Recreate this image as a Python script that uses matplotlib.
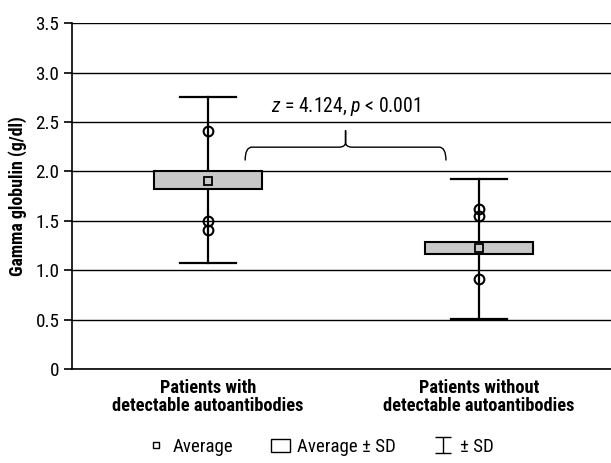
import matplotlib
matplotlib.use("Agg")
import matplotlib.pyplot as plt
from matplotlib.path import Path
from matplotlib.patches import PathPatch, Rectangle
from matplotlib.lines import Line2D
from matplotlib import font_manager

names = {f.name for f in font_manager.fontManager.ttflist}
cands = ['Liberation Sans Narrow', 'Roboto Condensed', 'Open Sans Condensed',
         'Noto Sans Condensed', 'DejaVu Sans Condensed', 'Roboto']
fam = next((c for c in cands if c in names), 'DejaVu Sans')
plt.rcParams['font.family'] = [fam, 'DejaVu Sans']
plt.rcParams['mathtext.fontset'] = 'custom'
plt.rcParams['mathtext.it'] = fam + ':italic'
plt.rcParams['mathtext.rm'] = fam

# data
groups = ['Patients with\ndetectable autoantibodies', 'Patients without\ndetectable autoantibodies']
means = [1.90, 1.22]
box_low = [1.82, 1.16]
box_high = [2.00, 1.29]
sd_low = [1.07, 0.51]
sd_high = [2.75, 1.92]
points = [[2.41, 1.50, 1.41], [1.62, 1.55, 0.91]]
stat_text = '$z$ = 4.124, $p$ < 0.001'
yticks = [0, 0.5, 1.0, 1.5, 2.0, 2.5, 3.0, 3.5]
ylabels = ['0', '0.5', '1.0', '1.5', '2.0', '2.5', '3.0', '3.5']

fig = plt.figure(figsize=(6.11, 4.63), dpi=100)
renderer = fig.canvas.get_renderer()


def fit_size(s, target_px, weight='normal'):
    # font size that gives the text the width seen in the reference
    t = fig.text(0, 0, s, fontsize=10, fontweight=weight)
    w = t.get_window_extent(renderer).width
    t.remove()
    return 10 * target_px / w


fs_tick = fit_size('3.5', 24)
fs_bold = fit_size('detectable autoantibodies', 192, 'bold')
fs_ylab = fit_size('Gamma globulin (g/dl)', 160, 'bold')
fs_stat = fit_size(stat_text, 150)
fs_leg = fit_size('Average', 60)

ax = fig.add_axes([0.1178, 0.203, 0.8822, 0.747])

box_w = 0.395
cap_w = 0.207
for i in range(len(groups)):
    ax.plot([i, i], [sd_low[i], sd_high[i]], color='black', lw=1.6, zorder=3)
    for y in (sd_low[i], sd_high[i]):
        ax.plot([i - cap_w / 2, i + cap_w / 2], [y, y], color='black', lw=1.6, zorder=3)
    ax.add_patch(Rectangle((i - box_w / 2, box_low[i]), box_w, box_high[i] - box_low[i],
                           facecolor='#c8c8c8', edgecolor='black', lw=1.5, zorder=4))
    ax.plot([i], [means[i]], 's', ms=5.5, mfc='#c8c8c8', mec='black', mew=1.3, zorder=5)
    ax.plot([i] * len(points[i]), points[i], 'o', ms=7, mfc='none', mec='black', mew=1.5, zorder=5)

# brace between groups
x0, x1 = 0.137, 0.878
xm = (x0 + x1) / 2
yb, yt, ytip = 2.11, 2.245, 2.415
r = 0.025
dy = 0.05
verts = [(x0, yb), (x0, yt), (x0 + r, yt),
         (xm - r, yt), (xm, yt), (xm, yt + dy),
         (xm, ytip), (xm, ytip),
         (xm, yt + dy), (xm, yt), (xm + r, yt),
         (x1 - r, yt), (x1, yt), (x1, yb)]
codes = [Path.MOVETO, Path.CURVE3, Path.CURVE3,
         Path.LINETO, Path.CURVE3, Path.CURVE3,
         Path.LINETO, Path.MOVETO,
         Path.LINETO, Path.CURVE3, Path.CURVE3,
         Path.LINETO, Path.CURVE3, Path.CURVE3]
ax.add_patch(PathPatch(Path(verts, codes), facecolor='none', edgecolor='black', lw=1.0, zorder=3))
ax.text(xm, 2.66, stat_text, ha='center', va='center', fontsize=fs_stat)

ax.set_xlim(-0.502, 1.487)
ax.set_ylim(0, 3.5)
ax.set_yticks(yticks)
ax.set_yticklabels(ylabels, fontsize=fs_tick)
ax.set_xticks(range(len(groups)))
ax.set_xticklabels(groups, fontsize=fs_bold, fontweight='bold', linespacing=1.05)
ax.tick_params(axis='x', length=0, pad=7)
ax.tick_params(axis='y', length=6, width=1.2, direction='out', pad=3)
ax.set_ylabel('Gamma globulin (g/dl)', fontsize=fs_ylab, fontweight='bold', labelpad=6)
ax.yaxis.grid(True, color='black', lw=1.0)
ax.set_axisbelow(True)
for s in ('top', 'right'):
    ax.spines[s].set_visible(False)
ax.spines['left'].set_linewidth(1.2)
ax.spines['bottom'].set_linewidth(1.2)

ibeam = Path([(-1, 1), (1, 1), (0, 1), (0, -1), (-1, -1), (1, -1)],
             [Path.MOVETO, Path.LINETO, Path.MOVETO, Path.LINETO, Path.MOVETO, Path.LINETO])
handles = [
    Line2D([], [], ls='none', marker='s', ms=5, mfc='white', mec='black', mew=1.0),
    Rectangle((0, 0), 1, 1, facecolor='white', edgecolor='black', lw=1.0),
    Line2D([], [], ls='none', marker=ibeam, ms=11, mec='black', mew=1.0),
]
fig.legend(handles, ['Average', 'Average ± SD', '± SD'], loc='center', bbox_to_anchor=(0.524, 0.035),
           ncol=3, frameon=False, fontsize=fs_leg, handlelength=1.0, handletextpad=0.4, columnspacing=2.0)

fig.savefig('out.png', dpi=100)
